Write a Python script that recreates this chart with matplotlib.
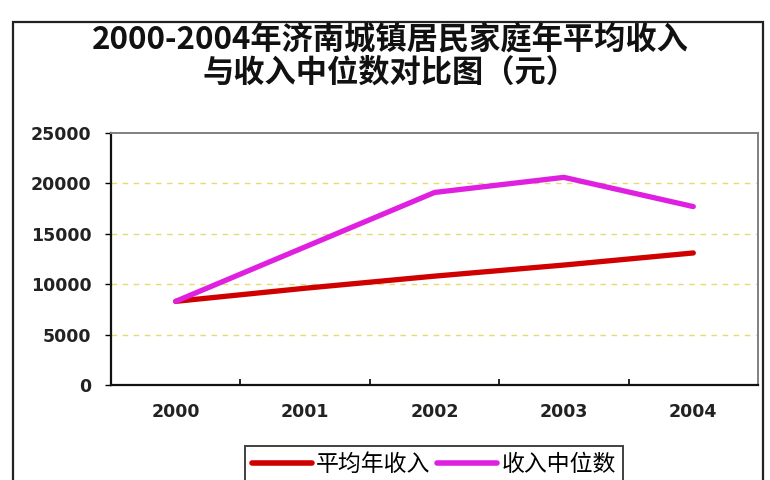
import matplotlib
matplotlib.use("Agg")
import matplotlib.pyplot as plt
from matplotlib.patches import Rectangle
from matplotlib.ticker import FixedLocator, NullFormatter

years = ["2000", "2001", "2002", "2003", "2004"]
avg_income = [8300, 9600, 10800, 11900, 13100]
median_income = [8300, 13700, 19100, 20600, 17700]
y_ticks = [0, 5000, 10000, 15000, 20000, 25000]

title_lines = ["2000-2004年济南城镇居民家庭年平均收入", "与收入中位数对比图（元）"]
label_avg = "平均年收入"
label_median = "收入中位数"

cjk = ["Noto Sans CJK SC", "DejaVu Sans"]

fig = plt.figure(figsize=(7.7, 4.8), dpi=100)
fig.patch.set_facecolor("white")

# outer chart border (bottom edge runs past the canvas)
fig.add_artist(Rectangle((13 / 770, -0.2), (763 - 13) / 770, 1.2 - 22 / 480,
                         transform=fig.transFigure, fill=False,
                         edgecolor="#222222", linewidth=1.6, clip_on=False))

fig.text(0.507, 1 - 39 / 480, title_lines[0], ha="center", va="center",
         family=cjk, fontsize=22.5, fontweight="bold", color="#111111")
fig.text(0.507, 1 - 73 / 480, title_lines[1], ha="center", va="center",
         family=cjk, fontsize=22.5, fontweight="bold", color="#111111")

ax = fig.add_axes([111 / 770, 1 - 385 / 480, (758 - 111) / 770, (385 - 133) / 480])
x = list(range(len(years)))

ax.plot(x, avg_income, color="#D00000", linewidth=3.8, solid_capstyle="round",
        label=label_avg, zorder=3)
ax.plot(x, median_income, color="#E020E0", linewidth=3.8, solid_capstyle="round",
        label=label_median, zorder=4)

ax.set_xlim(-0.5, len(years) - 0.5)
ax.set_ylim(0, 25000)
ax.set_yticks(y_ticks)
ax.set_yticklabels([str(v) for v in y_ticks])
ax.set_xticks(x)
ax.set_xticklabels(years)
ax.xaxis.set_minor_locator(FixedLocator([i + 0.5 for i in range(len(years) - 1)]))
ax.xaxis.set_minor_formatter(NullFormatter())

for v in y_ticks[1:-1]:
    ax.axhline(v, color="#E6DA70", linewidth=1.0, linestyle=(0, (4, 4)), zorder=1)

for lab in ax.get_xticklabels() + ax.get_yticklabels():
    lab.set_fontweight("bold")
    lab.set_fontsize(12.5)
    lab.set_color("#222222")

ax.tick_params(axis="x", which="major", length=0, pad=13)
ax.tick_params(axis="x", which="minor", direction="in", length=4, width=1.2)
ax.tick_params(axis="y", direction="out", length=4, width=1.0, pad=10)

for side in ("left", "bottom"):
    ax.spines[side].set_color("#111111")
    ax.spines[side].set_linewidth(1.6)
for side in ("top", "right"):
    ax.spines[side].set_color("#808080")
    ax.spines[side].set_linewidth(1.4)

leg = fig.legend(loc="upper center", bbox_to_anchor=(434 / 770, 1 - 446 / 480),
                 ncol=2, prop={"family": cjk, "size": 16.5}, frameon=True,
                 fancybox=False, edgecolor="#111111", handlelength=2.6,
                 handletextpad=0.2, columnspacing=0.3, borderpad=0.3,
                 borderaxespad=0)
leg.get_frame().set_linewidth(1.4)
for line in leg.get_lines():
    line.set_linewidth(4)

fig.savefig("out.png", dpi=100, facecolor="white")
